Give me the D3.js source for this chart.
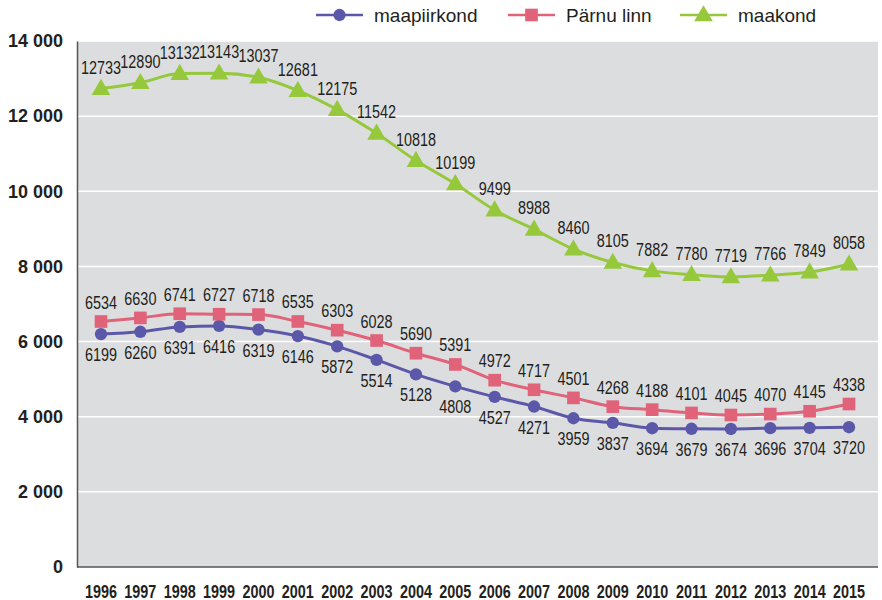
<!DOCTYPE html>
<html>
<head>
<meta charset="utf-8">
<script src="https://cdn.jsdelivr.net/npm/d3@7"></script>
<style>
  body { margin: 0; background: #fff; }
  svg text { font-family: "Liberation Sans", Arial, sans-serif; }
</style>
</head>
<body>
<div id="chart"></div>
<script>
// data
const years = [1996, 1997, 1998, 1999, 2000, 2001, 2002, 2003, 2004, 2005,
               2006, 2007, 2008, 2009, 2010, 2011, 2012, 2013, 2014, 2015];
const maapiirkond = [6199, 6260, 6391, 6416, 6319, 6146, 5872, 5514, 5128, 4808,
                     4527, 4271, 3959, 3837, 3694, 3679, 3674, 3696, 3704, 3720];
const parnuLinn = [6534, 6630, 6741, 6727, 6718, 6535, 6303, 6028, 5690, 5391,
                   4972, 4717, 4501, 4268, 4188, 4101, 4045, 4070, 4145, 4338];
const maakond = [12733, 12890, 13132, 13143, 13037, 12681, 12175, 11542, 10818, 10199,
                 9499, 8988, 8460, 8105, 7882, 7780, 7719, 7766, 7849, 8058];
const yTicks = [0, 2000, 4000, 6000, 8000, 10000, 12000, 14000];

const svgWidth = 882;
const svgHeight = 600;

const plot = { left: 77, right: 878, top: 41, bottom: 567 };

const svg = d3.select('#chart')
  .append('svg')
  .attr('width', svgWidth)
  .attr('height', svgHeight);

const x = d3.scalePoint()
  .domain(years)
  .range([101, 849]);

const y = d3.scaleLinear()
  .domain([0, 14000])
  .range([plot.bottom, plot.top]);

// plot background
svg.append('rect')
  .attr('x', plot.left)
  .attr('y', plot.top)
  .attr('width', plot.right - plot.left)
  .attr('height', plot.bottom - plot.top)
  .attr('fill', '#dcdddf');

// gridlines
svg.append('g')
  .selectAll('line')
  .data(yTicks.filter(d => d > 0))
  .enter()
  .append('line')
  .attr('x1', plot.left)
  .attr('x2', plot.right)
  .attr('y1', d => y(d))
  .attr('y2', d => y(d))
  .attr('stroke', '#fff')
  .attr('stroke-width', 1.5);

// y axis
const fmt = d => d3.format(',')(d).replace(/,/g, ' ');
const yAxis = svg.append('g')
  .attr('transform', `translate(${plot.left},0)`)
  .call(d3.axisLeft(y).tickValues(yTicks).tickFormat(fmt).tickSize(0).tickPadding(14));
yAxis.select('.domain').attr('stroke', '#555').attr('stroke-width', 1.5);
yAxis.selectAll('text')
  .attr('font-size', 18)
  .attr('font-weight', 'bold')
  .attr('fill', '#231f20')
  .attr('font-family', '"Liberation Sans", Arial, sans-serif');

// x axis - condensed bold labels, squeezed horizontally
svg.append('g')
  .selectAll('text')
  .data(years)
  .enter()
  .append('text')
  .attr('transform', d => `translate(${x(d)},${plot.bottom + 31}) scale(0.8,1)`)
  .attr('text-anchor', 'middle')
  .attr('font-size', 18)
  .attr('font-weight', 'bold')
  .attr('fill', '#231f20')
  .text(d => d);
svg.append('line')
  .attr('x1', plot.left)
  .attr('x2', plot.right)
  .attr('y1', plot.bottom)
  .attr('y2', plot.bottom)
  .attr('stroke', '#555')
  .attr('stroke-width', 1.5);

const series = [
  { name: 'maapiirkond', values: maapiirkond, color: '#5c58a9', marker: 'circle', dy: 27 },
  { name: 'Pärnu linn', values: parnuLinn, color: '#e0637a', marker: 'square', dy: -13 },
  { name: 'maakond', values: maakond, color: '#96c83c', marker: 'triangle', dy: -15 }
];

const markerPath = {
  circle: d3.symbol().type(d3.symbolCircle).size(120),
  square: d3.symbol().type(d3.symbolSquare).size(160),
  triangle: d3.symbol().type(d3.symbolTriangle).size(150)
};

const line = d3.line()
  .x(d => x(d.year))
  .y(d => y(d.value))
  .curve(d3.curveMonotoneX);

series.forEach(s => {
  const pts = years.map((yr, i) => ({ year: yr, value: s.values[i] }));
  const g = svg.append('g');

  g.append('path')
    .datum(pts)
    .attr('d', line)
    .attr('fill', 'none')
    .attr('stroke', s.color)
    .attr('stroke-width', 3);

  g.selectAll('path.marker')
    .data(pts)
    .enter()
    .append('path')
    .attr('class', 'marker')
    .attr('d', markerPath[s.marker])
    .attr('transform', d => `translate(${x(d.year)},${y(d.value) + (s.marker === 'triangle' ? 1 : 0)})`)
    .attr('fill', s.color);

  // value labels: narrow look via horizontal squeeze
  g.selectAll('text')
    .data(pts)
    .enter()
    .append('text')
    .attr('transform', d => `translate(${x(d.year)},${y(d.value) + s.dy}) scale(0.76,1)`)
    .attr('text-anchor', 'middle')
    .attr('font-size', 19)
    .attr('fill', '#231f20')
    .text(d => d.value);
});

// legend
const legendX = [316, 508, 680];
const legend = svg.append('g');
series.forEach((s, i) => {
  const lg = legend.append('g').attr('transform', `translate(${legendX[i]},15)`);
  lg.append('line')
    .attr('x1', 0).attr('x2', 47)
    .attr('stroke', s.color)
    .attr('stroke-width', 2.5);
  lg.append('path')
    .attr('d', markerPath[s.marker])
    .attr('transform', `translate(23.5,${s.marker === 'triangle' ? 1 : 0})`)
    .attr('fill', s.color);
  lg.append('text')
    .attr('x', 58)
    .attr('y', 7)
    .attr('font-size', 19)
    .attr('fill', '#231f20')
    .text(s.name);
});
</script>
</body>
</html>
